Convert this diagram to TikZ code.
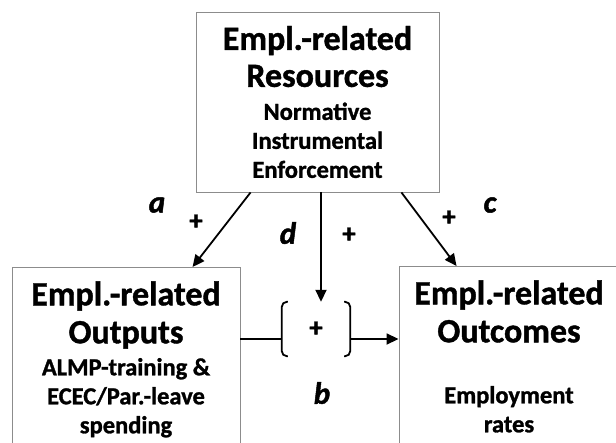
\documentclass[tikz,border=0pt]{standalone}
\usepackage{fontspec}
\setmainfont{Carlito}[BoldFeatures={FakeBold=1.2},BoldItalicFeatures={FakeBold=1.5}]
\usetikzlibrary{arrows.meta,positioning}
\newcommand{\hd}[1]{{\fontsize{34}{39}\selectfont #1}}

\begin{document}
\begin{tikzpicture}[
  x=1pt, y=-1pt,
  box/.style={draw=black!45, line width=0.9pt, align=center, inner xsep=0pt,
              font=\bfseries\fontsize{24.5}{29}\selectfont},
  modbox/.style={minimum width=68pt, minimum height=54pt, inner sep=0pt,
               font=\bfseries\fontsize{27}{27}\selectfont},
  sign/.style={inner sep=0pt, font=\bfseries\fontsize{27}{27}\selectfont},
  lab/.style={inner sep=0pt, font=\bfseries\itshape\fontsize{31}{31}\selectfont},
  ln/.style={line width=1.8pt},
  arr/.style={-{Triangle[length=12pt,width=11pt]}, line width=1.8pt},
  brk/.style={line width=1.8pt, rounded corners=5pt}]

\useasboundingbox (0,0) rectangle (616,442);
\clip (0,0) rectangle (616,442);

\node[box, minimum width=243pt, minimum height=180pt] (res) at (317.5,102)
  {\hd{Empl.-related}\\[8pt] \hd{Resources}\\[4pt] Normative\\
   Instrumental\\ Enforcement};
\node[box, anchor=north, minimum width=228pt, inner ysep=14pt] (outp) at (126,267)
  {\hd{Empl.-related}\\[9pt] \hd{Outputs}\\[3pt] ALMP-training \&\\
   ECEC/Par.-leave\\ spending};
\node[box, anchor=north, minimum width=220pt, inner ysep=14pt] (outc) at (509,266)
  {\hd{Empl.-related}\\[9pt] \hd{Outcomes}\\[3pt] \mbox{}\\
   Employment\\ rates};

\node[modbox] (mod) at (316,329) {+};
\draw[brk] ([xshift=6pt]mod.north west) -- (mod.north west)
           -- (mod.south west) -- ([xshift=6pt]mod.south west);
\draw[brk] ([xshift=-6pt]mod.north east) -- (mod.north east)
           -- (mod.south east) -- ([xshift=-6pt]mod.south east);

\coordinate (ml) at ([yshift=-10pt]mod.west);
\coordinate (mr) at ([yshift=-10pt]mod.east);
\coordinate (mt) at ([xshift=5pt]mod.north);

% paths a, d, c and b
\draw[arr] ([xshift=55pt]res.south west) -- ([xshift=181pt]outp.north west);
\draw[arr] (res.south -| mt) -- (mt);
\draw[arr] ([xshift=-38pt]res.south east) -- ([xshift=58pt]outc.north west);
\draw[ln]  (ml -| outp.east) -- (ml);
\draw[arr] (mr) -- (mr -| outc.west);

\node[lab]  (labA)  at (157,205) {a};
\node[sign] (plusA) at (196,222) {+};
\node[lab]  (labD)  at (288,233) {d};
\node[sign] (plusD) at (349,235) {+};
\node[sign] (plusC) at (449,218) {+};
\node[lab]  (labC)  at (490,205) {c};
\node[lab]  (labB)  at (322,393) {b};
\end{tikzpicture}
\end{document}
